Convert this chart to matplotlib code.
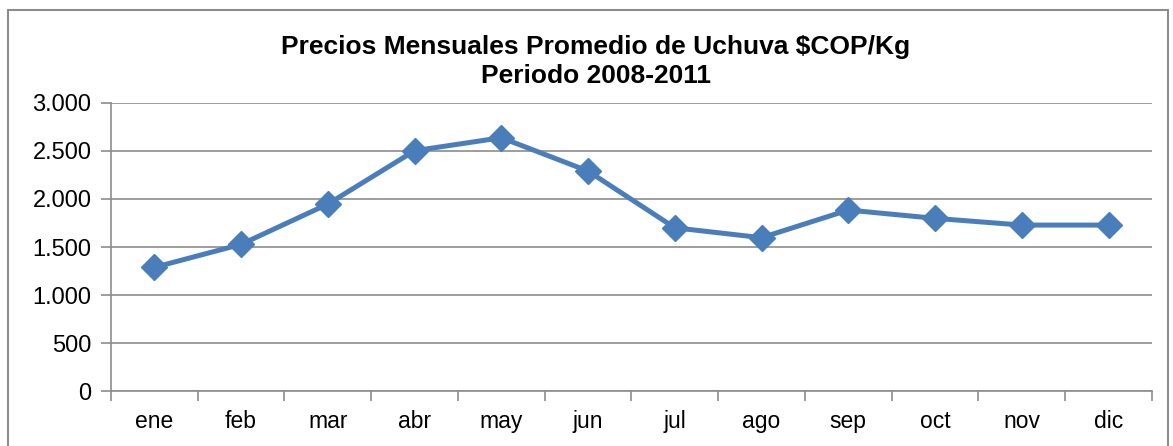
import matplotlib.pyplot as plt
from matplotlib.patches import Rectangle
from matplotlib.ticker import FuncFormatter

plt.rcParams['font.family'] = ['Liberation Sans', 'DejaVu Sans']

meses = ['ene', 'feb', 'mar', 'abr', 'may', 'jun', 'jul', 'ago', 'sep', 'oct', 'nov', 'dic']
precios = [1289, 1528, 1946, 2500, 2635, 2289, 1700, 1597, 1884, 1798, 1728, 1728]
y_ticks = [0, 500, 1000, 1500, 2000, 2500, 3000]

fig = plt.figure(figsize=(11.73, 4.46), dpi=100)
ax = fig.add_axes([0.0946, 0.1222, 0.8874, 0.6478])

# outer chart border (cut off at bottom like the source image)
fig.patches.append(Rectangle((8 / 1173, -0.05), 1160 / 1173, 1 - 10 / 446 + 0.05,
                             transform=fig.transFigure, fill=False,
                             edgecolor='#8c8c8c', linewidth=1.5))

x = list(range(len(meses)))
ax.plot(x, precios, color='#4a7ebb', linewidth=3.6, marker='D', markersize=13.5,
        markeredgecolor='#4a7ebb', zorder=3)

ax.set_ylim(0, 3000)
ax.set_xlim(-0.5, len(meses) - 0.5)
ax.set_yticks(y_ticks)
ax.yaxis.set_major_formatter(FuncFormatter(lambda v, p: f'{int(v):,}'.replace(',', '.')))
ax.grid(axis='y', color='#8c8c8c', linewidth=1.2)
ax.set_axisbelow(True)

ax.set_xticks([i - 0.5 for i in range(len(meses) + 1)])
ax.set_xticklabels([])
ax.set_xticks(x, minor=True)
ax.set_xticklabels(meses, minor=True)
ax.tick_params(axis='x', which='minor', length=0, pad=13, labelsize=16.5)
ax.tick_params(axis='x', which='major', length=7, color='#8c8c8c', width=1.2)
ax.tick_params(axis='y', length=7, color='#8c8c8c', width=1.2, labelsize=17, pad=7)

for s in ['top', 'right']:
    ax.spines[s].set_visible(False)
for s in ['left', 'bottom']:
    ax.spines[s].set_color('#8c8c8c')
    ax.spines[s].set_linewidth(1.2)

fig.text(0.508, 1 - 47 / 446, 'Precios Mensuales Promedio de Uchuva $COP/Kg',
         ha='center', va='center', fontsize=19, fontweight='bold')
fig.text(0.508, 1 - 76 / 446, 'Periodo 2008-2011',
         ha='center', va='center', fontsize=19, fontweight='bold')

fig.savefig('out.png', dpi=100)
